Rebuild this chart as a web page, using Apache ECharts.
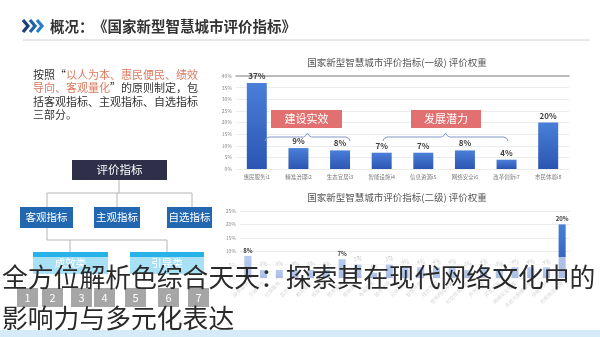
<!DOCTYPE html>
<html><head><meta charset="utf-8">
<script src="https://cdn.jsdelivr.net/npm/echarts@6/dist/echarts.min.js"></script>
<style>html,body{margin:0;padding:0;background:#fff}#c{width:600px;height:337px}</style>
</head><body><div id="c"></div>
<script>
// ---- data ----
const level1Categories = ['惠民服务i1','精准治理i2','生态宜居i3','智能设施i4','信息资源i5','网络安全i6','改革创新i7','市民体验i8'];
const level1Weights = [37, 9, 8, 7, 7, 8, 4, 20];
const level2Categories = ['政务服务','交通服务','社保服务','医疗服务','教育服务','就业服务','城市服务','帮扶服务','电商服务','城市管理','公共安全','智慧环保','绿色节能','宽带网络设施','时空信息平台','开放共享','开发利用','网络安全管理','系统与数据安全','体制机制','市民体验调查'];
const level2Weights = [8, 3, 3, 3, 3, 3, 7, 5, 2, 5, 4, 4, 4, 4, 3, 4, 3, 4, 4, 4, 20];
const level1Ticks = { min: 0, max: 40, step: 5 };
const level2Ticks = { min: 0, max: 25, step: 5 };
const pageTitleHead = '概况：';
const pageTitleBody = '《国家新型智慧城市评价指标》';
const chart1Title = '国家新型智慧城市评价指标(一级) 评价权重';
const chart2Title = '国家新型智慧城市评价指标(二级) 评价权重';
const orgRoot = '评价指标';
const orgLevel1 = ['客观指标','主观指标','自选指标'];
const orgLevel2 = ['成效类','引导类'];
const groupNames = ['建设实效','发展潜力'];
const pageNumbers = ['1','2','3','4','5','6','7'];
const captionLines = ['全方位解析色综合天天：探索其在现代网络文化中的','影响力与多元化表达'];

const FONT = '"Noto Sans CJK SC", "Noto Sans", sans-serif';
const chart = echarts.init(document.getElementById('c'), null, {renderer:'canvas'});

const barGrad = {type:'linear',x:0,y:0,x2:0,y2:1,colorStops:[{offset:0,color:'#4a7fd8'},{offset:1,color:'#2b56b2'}]};

function chevron(x, color){
  return {type:'polyline', shape:{points:[[x,20],[x+5,26],[x,32]]}, style:{stroke:color, lineWidth:3.2, fill:null}};
}
function box(x,y,w,h,fill,text,fs,z){
  z = z || 0;
  return {type:'group', children:[
    {type:'rect', z:z, shape:{x:x,y:y,width:w,height:h}, style:{fill:fill}},
    {type:'text', z:z+1, x:x+w/2, y:y+h/2, style:{text:text, fill:'#fff', fontSize:fs, fontFamily:FONT, textAlign:'center', textVerticalAlign:'middle'}}
  ]};
}
function line(pts, color, z){
  return {type:'polyline', z:z||0, shape:{points:pts}, style:{stroke:color||'#b5b5b5', lineWidth:1, fill:null}};
}
function brace(x1, x2, y, color){
  const m = (x1+x2)/2;
  return {type:'polyline', z:50, shape:{points:[[x1,y+4],[x1+1,y+1.5],[x1+4,y],[m-4,y],[m-1.5,y-1.5],[m,y-4],[m+1.5,y-1.5],[m+4,y],[x2-4,y],[x2-1,y+1.5],[x2,y+4]]},
    style:{stroke:color, lineWidth:1, fill:null}};
}

const graphics = [
  chevron(23,'#1d3f75'), chevron(30,'#1f63a8'), chevron(37,'#2a7fc6'),
  {type:'text', x:50, y:26, style:{text:pageTitleHead, fontSize:14.5, fontWeight:'bold', fill:'#333', fontFamily:FONT, textVerticalAlign:'middle'}},
  {type:'text', x:93, y:26, style:{text:pageTitleBody, fontSize:14.5, fontWeight:'bold', fill:'#333', fontFamily:FONT, textVerticalAlign:'middle'}},
  line([[23,40],[590,40]], '#d0d0d0'),
  {type:'text', x:33, y:68, style:{
    text:'{a|按照“}{r|以人为本、惠民便民、绩效}\n{r|导向、客观量化}{a|”的原则制定，包}\n{a|括客观指标、主观指标、自选指标}\n{a|三部分。}',
    fontFamily:FONT, fontSize:11, lineHeight:13.5,
    rich:{a:{fill:'#333',fontSize:11,fontFamily:FONT,lineHeight:13.5}, r:{fill:'#dc7a60',fontSize:11,fontFamily:FONT,lineHeight:13.5}}}},
  // org chart
  line([[119,180],[119,193]]), line([[47,207],[47,193],[192,193],[192,207]]), line([[117,193],[117,207]]),
  line([[47,228],[47,240],[167,240],[167,252]]), line([[70,240],[70,252]]),
  box(72,160,95,20,'#2f2f49',orgRoot,11.5),
  box(20,207,53,21,'#2168b1',orgLevel1[0],10.5),
  box(94,207,46,21,'#2168b1',orgLevel1[1],10.5),
  box(167,207,45,21,'#2168b1',orgLevel1[2],10.5),
  box(33,252,75,22,'#27b2e8',orgLevel2[0],10.5),
  box(130,252,74,22,'#27b2e8',orgLevel2[1],10.5),
  // chart titles
  {type:'text', x:397, y:62, style:{text:chart1Title, fontSize:9.5, fill:'#555', fontFamily:FONT, textAlign:'center', textVerticalAlign:'middle'}},
  {type:'text', x:397, y:197, style:{text:chart2Title, fontSize:9.5, fill:'#555', fontFamily:FONT, textAlign:'center', textVerticalAlign:'middle'}},
  // annotations
  box(271,110,71,18,'#e27070',groupNames[0],11,50),
  box(411,110,70,18,'#e27070',groupNames[1],11,50),
  brace(265,350,137,'#8099c2'),
  brace(383,508,137,'#8099c2'),
  // overlay
  {type:'rect', z:100, shape:{x:0,y:257,width:600,height:80}, style:{fill:'rgba(255,255,255,0.6)'}},
  {type:'rect', z:101, shape:{x:0,y:330,width:600,height:7}, style:{fill:'#d6ebf8'}},
];
const numX = [17,42,71,94,125,158,188];
pageNumbers.forEach((n,i)=>{ graphics.push(box(numX[i],288,21,19,'#a6a6a6',n,11,102)); });
graphics.push({type:'text', z:110, x:2, y:277, style:{text:captionLines[0], fontSize:25.8, fill:'#2a2a2a', fontFamily:FONT, textVerticalAlign:'middle'}});
graphics.push({type:'text', z:110, x:2, y:318, style:{text:captionLines[1], fontSize:25.8, fill:'#2a2a2a', fontFamily:FONT, textVerticalAlign:'middle'}});

const pct = v => v + '%';
chart.setOption({
  animation:false,
  textStyle:{fontFamily:FONT},
  grid:[
    {left:236, right:31, top:76, bottom:168},
    {left:240, right:30, top:211, bottom:59}
  ],
  xAxis:[
    {type:'category', gridIndex:0, data:level1Categories, axisLine:{show:false}, axisTick:{show:false},
     axisLabel:{fontSize:5.5, color:'#777', margin:5, interval:0}},
    {type:'category', gridIndex:0, position:'top', data:level1Categories, axisLine:{show:true, lineStyle:{color:'#a8a8a8', width:1.5}},
     axisTick:{show:false}, axisLabel:{show:false}},
    {type:'category', gridIndex:1, data:level2Categories, axisLine:{show:false}, axisTick:{show:false},
     axisLabel:{fontSize:5, color:'#999', rotate:45, interval:0, margin:4}}
  ],
  yAxis:[
    {type:'value', gridIndex:0, min:level1Ticks.min, max:level1Ticks.max, interval:level1Ticks.step,
     axisLabel:{formatter:pct, fontSize:5, color:'#888', margin:4}, axisLine:{show:false}, axisTick:{show:false},
     splitLine:{lineStyle:{color:'#ececec'}}},
    {type:'value', gridIndex:1, min:level2Ticks.min, max:level2Ticks.max, interval:level2Ticks.step,
     axisLabel:{formatter:pct, fontSize:5, color:'#888', margin:4}, axisLine:{show:false}, axisTick:{show:false},
     splitLine:{lineStyle:{color:'#ececec'}}}
  ],
  series:[
    {type:'bar', xAxisIndex:0, yAxisIndex:0, data:level1Weights, barWidth:'48%', itemStyle:{color:barGrad},
     label:{show:true, position:'top', distance:3, formatter:p=>p.value+'%', fontSize:8, fontWeight:'bold', color:'#404040'}},
    {type:'bar', xAxisIndex:2, yAxisIndex:1, barWidth:'45%', itemStyle:{color:barGrad},
     data:level2Weights.map(v=>({value:v, label: v>=7 ? {fontWeight:'bold', color:'#404040', fontSize:6} : {color:'#8a8a8a', fontSize:5.5}})),
     label:{show:true, position:'top', distance:3, formatter:p=>p.value+'%'}}
  ],
  graphic:{elements:graphics}
});
</script></body></html>
